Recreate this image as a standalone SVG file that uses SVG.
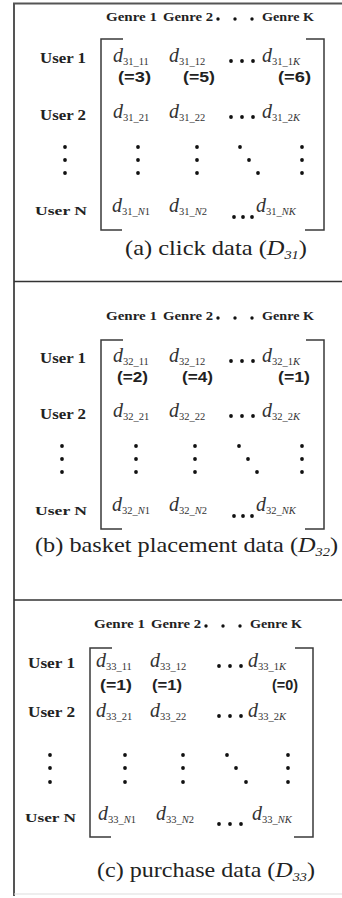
<svg xmlns="http://www.w3.org/2000/svg" width="342" height="898" viewBox="0 0 342 898">
  <style>
    .frame { stroke: #555; stroke-width: 2; fill: none; }
    .divider { stroke: #333; stroke-width: 1.5; fill: none; }
    .bracket { stroke: #3a3a3a; stroke-width: 1.5; fill: none; }
    .hdr { font-family: "Liberation Serif", serif; font-weight: bold; font-size: 13.5px; fill: #222; }
    .user { font-family: "Liberation Serif", serif; font-weight: bold; font-size: 15px; fill: #222; }
    .userN { font-family: "Liberation Serif", serif; font-weight: bold; font-size: 13px; fill: #222; }
    .d { font-family: "Liberation Serif", serif; font-style: italic; font-size: 20px; fill: #333; }
    .sub { font-style: normal; font-size: 10.5px; }
    .it { font-style: italic; }
    .val { font-family: "Liberation Sans", sans-serif; font-weight: bold; font-size: 14px; fill: #222; }
    .cap { font-family: "Liberation Serif", serif; font-size: 22px; fill: #222; }
    .capsub { font-size: 13px; font-style: italic; }
    .dot { fill: #111; }
  </style>
  <defs>
    <circle id="dt" r="1.9" class="dot"/>
    <circle id="hd" r="1.7" class="dot"/>
  </defs>

  <rect width="342" height="898" fill="#fff"/>

  <!-- outer frame and panel dividers -->
  <g id="frame">
    <line class="frame" x1="14" y1="3" x2="14" y2="896"/>
    <line class="frame" x1="13" y1="3.5" x2="342" y2="3.5" stroke-width="1.5"/>
    <line class="divider" x1="14" y1="281.5" x2="342" y2="281.5"/>
    <line class="divider" x1="14" y1="600" x2="342" y2="600"/>
    <line x1="14" y1="894" x2="342" y2="894" stroke="#ddd" stroke-width="1"/>
  </g>

  <!-- panel (a): click data -->
  <g id="panel-a">
    <g id="a-header">
      <text class="hdr" x="106" y="21" textLength="51" lengthAdjust="spacingAndGlyphs">Genre 1</text>
      <text class="hdr" x="163" y="21" textLength="50" lengthAdjust="spacingAndGlyphs">Genre 2</text>
      <use href="#hd" x="218" y="19"/><use href="#hd" x="235" y="19"/><use href="#hd" x="252" y="19"/>
      <text class="hdr" x="262" y="21" textLength="52" lengthAdjust="spacingAndGlyphs">Genre K</text>
    </g>
    <g id="a-users">
      <text class="user" x="40" y="63" textLength="46" lengthAdjust="spacingAndGlyphs">User 1</text>
      <text class="user" x="40" y="120" textLength="46" lengthAdjust="spacingAndGlyphs">User 2</text>
      <use href="#dt" x="65" y="147"/><use href="#dt" x="65" y="160"/><use href="#dt" x="65" y="173"/>
      <text class="userN" x="35" y="215" textLength="52" lengthAdjust="spacingAndGlyphs">User N</text>
    </g>
    <g id="a-matrix">
      <path class="bracket" d="M123,39 H101 V230 H122"/>
      <path class="bracket" d="M306,39 H324 V230 H305"/>
      <text class="d" x="113" y="62">d<tspan class="sub" dy="3">31_11</tspan></text>
      <text class="d" x="169" y="62">d<tspan class="sub" dy="3">31_12</tspan></text>
      <use href="#dt" x="231" y="61"/><use href="#dt" x="242" y="61"/><use href="#dt" x="253" y="61"/>
      <text class="d" x="262" y="62">d<tspan class="sub" dy="3">31_1<tspan class="it">K</tspan></tspan></text>
      <text class="val" x="118" y="82" textLength="33" lengthAdjust="spacingAndGlyphs">(=3)</text>
      <text class="val" x="183" y="82" textLength="32" lengthAdjust="spacingAndGlyphs">(=5)</text>
      <text class="val" x="278" y="82" textLength="33" lengthAdjust="spacingAndGlyphs">(=6)</text>
      <text class="d" x="113" y="118">d<tspan class="sub" dy="3">31_21</tspan></text>
      <text class="d" x="169" y="118">d<tspan class="sub" dy="3">31_22</tspan></text>
      <use href="#dt" x="231" y="117"/><use href="#dt" x="242" y="117"/><use href="#dt" x="253" y="117"/>
      <text class="d" x="262" y="118">d<tspan class="sub" dy="3">31_2<tspan class="it">K</tspan></tspan></text>
      <use href="#dt" x="138" y="147"/><use href="#dt" x="138" y="160"/><use href="#dt" x="138" y="173"/>
      <use href="#dt" x="197" y="147"/><use href="#dt" x="197" y="160"/><use href="#dt" x="197" y="173"/>
      <use href="#dt" x="240" y="147"/><use href="#dt" x="249" y="160"/><use href="#dt" x="258" y="173"/>
      <use href="#dt" x="302" y="147"/><use href="#dt" x="302" y="160"/><use href="#dt" x="302" y="173"/>
      <text class="d" x="112" y="212">d<tspan class="sub" dy="3">31_<tspan class="it">N</tspan>1</tspan></text>
      <text class="d" x="169" y="212">d<tspan class="sub" dy="3">31_<tspan class="it">N</tspan>2</tspan></text>
      <use href="#dt" x="234" y="217"/><use href="#dt" x="243" y="217"/><use href="#dt" x="252" y="217"/>
      <text class="d" x="256" y="212">d<tspan class="sub" dy="3">31_<tspan class="it">NK</tspan></tspan></text>
    </g>
    <text id="a-caption" class="cap" x="125" y="255" textLength="182" lengthAdjust="spacingAndGlyphs">(a) click data (<tspan class="it">D</tspan><tspan class="capsub" dy="4">31</tspan><tspan dy="-4">)</tspan></text>
  </g>

  <!-- panel (b): basket placement data -->
  <g id="panel-b">
    <g id="b-header">
      <text class="hdr" x="106" y="320" textLength="51" lengthAdjust="spacingAndGlyphs">Genre 1</text>
      <text class="hdr" x="163" y="320" textLength="50" lengthAdjust="spacingAndGlyphs">Genre 2</text>
      <use href="#hd" x="218" y="318"/><use href="#hd" x="235" y="318"/><use href="#hd" x="252" y="318"/>
      <text class="hdr" x="262" y="320" textLength="52" lengthAdjust="spacingAndGlyphs">Genre K</text>
    </g>
    <g id="b-users">
      <text class="user" x="40" y="363" textLength="46" lengthAdjust="spacingAndGlyphs">User 1</text>
      <text class="user" x="40" y="419" textLength="46" lengthAdjust="spacingAndGlyphs">User 2</text>
      <use href="#dt" x="62" y="446"/><use href="#dt" x="62" y="459"/><use href="#dt" x="62" y="472"/>
      <text class="userN" x="35" y="515" textLength="52" lengthAdjust="spacingAndGlyphs">User N</text>
    </g>
    <g id="b-matrix">
      <path class="bracket" d="M123,340 H101 V529 H122"/>
      <path class="bracket" d="M306,340 H324 V529 H305"/>
      <text class="d" x="113" y="362">d<tspan class="sub" dy="3">32_11</tspan></text>
      <text class="d" x="169" y="362">d<tspan class="sub" dy="3">32_12</tspan></text>
      <use href="#dt" x="231" y="361"/><use href="#dt" x="242" y="361"/><use href="#dt" x="253" y="361"/>
      <text class="d" x="262" y="362">d<tspan class="sub" dy="3">32_1<tspan class="it">K</tspan></tspan></text>
      <text class="val" x="117" y="382" textLength="31" lengthAdjust="spacingAndGlyphs">(=2)</text>
      <text class="val" x="182" y="382" textLength="31" lengthAdjust="spacingAndGlyphs">(=4)</text>
      <text class="val" x="278" y="382" textLength="32" lengthAdjust="spacingAndGlyphs">(=1)</text>
      <text class="d" x="113" y="417">d<tspan class="sub" dy="3">32_21</tspan></text>
      <text class="d" x="169" y="417">d<tspan class="sub" dy="3">32_22</tspan></text>
      <use href="#dt" x="231" y="416"/><use href="#dt" x="242" y="416"/><use href="#dt" x="253" y="416"/>
      <text class="d" x="262" y="417">d<tspan class="sub" dy="3">32_2<tspan class="it">K</tspan></tspan></text>
      <use href="#dt" x="136" y="446"/><use href="#dt" x="136" y="459"/><use href="#dt" x="136" y="472"/>
      <use href="#dt" x="195" y="446"/><use href="#dt" x="195" y="459"/><use href="#dt" x="195" y="472"/>
      <use href="#dt" x="239" y="446"/><use href="#dt" x="248" y="459"/><use href="#dt" x="257" y="472"/>
      <use href="#dt" x="302" y="446"/><use href="#dt" x="302" y="459"/><use href="#dt" x="302" y="472"/>
      <text class="d" x="112" y="511">d<tspan class="sub" dy="3">32_<tspan class="it">N</tspan>1</tspan></text>
      <text class="d" x="169" y="511">d<tspan class="sub" dy="3">32_<tspan class="it">N</tspan>2</tspan></text>
      <use href="#dt" x="234" y="516"/><use href="#dt" x="243" y="516"/><use href="#dt" x="252" y="516"/>
      <text class="d" x="256" y="511">d<tspan class="sub" dy="3">32_<tspan class="it">NK</tspan></tspan></text>
    </g>
    <text id="b-caption" class="cap" x="35" y="552" textLength="303" lengthAdjust="spacingAndGlyphs">(b) basket placement data (<tspan class="it">D</tspan><tspan class="capsub" dy="4">32</tspan><tspan dy="-4">)</tspan></text>
  </g>

  <!-- panel (c): purchase data -->
  <g id="panel-c">
    <g id="c-header">
      <text class="hdr" x="94" y="628" textLength="51" lengthAdjust="spacingAndGlyphs">Genre 1</text>
      <text class="hdr" x="151" y="628" textLength="50" lengthAdjust="spacingAndGlyphs">Genre 2</text>
      <use href="#hd" x="206" y="626"/><use href="#hd" x="223" y="626"/><use href="#hd" x="240" y="626"/>
      <text class="hdr" x="250" y="628" textLength="52" lengthAdjust="spacingAndGlyphs">Genre K</text>
    </g>
    <g id="c-users">
      <text class="user" x="28" y="668" textLength="47" lengthAdjust="spacingAndGlyphs">User 1</text>
      <text class="user" x="28" y="717" textLength="47" lengthAdjust="spacingAndGlyphs">User 2</text>
      <use href="#dt" x="50" y="755"/><use href="#dt" x="50" y="768"/><use href="#dt" x="50" y="782"/>
      <text class="userN" x="25" y="822" textLength="51" lengthAdjust="spacingAndGlyphs">User N</text>
    </g>
    <g id="c-matrix">
      <path class="bracket" d="M112,648 H90 V837 H111"/>
      <path class="bracket" d="M295,648 H313 V837 H294"/>
      <text class="d" x="96" y="667">d<tspan class="sub" dy="3">33_11</tspan></text>
      <text class="d" x="150" y="667">d<tspan class="sub" dy="3">33_12</tspan></text>
      <use href="#dt" x="219" y="666"/><use href="#dt" x="230" y="666"/><use href="#dt" x="241" y="666"/>
      <text class="d" x="248" y="667">d<tspan class="sub" dy="3">33_1<tspan class="it">K</tspan></tspan></text>
      <text class="val" x="100" y="690" textLength="32" lengthAdjust="spacingAndGlyphs">(=1)</text>
      <text class="val" x="152" y="690" textLength="30" lengthAdjust="spacingAndGlyphs">(=1)</text>
      <text class="val" x="272" y="690" textLength="26" lengthAdjust="spacingAndGlyphs">(=0)</text>
      <text class="d" x="96" y="717">d<tspan class="sub" dy="3">33_21</tspan></text>
      <text class="d" x="150" y="717">d<tspan class="sub" dy="3">33_22</tspan></text>
      <use href="#dt" x="219" y="716"/><use href="#dt" x="230" y="716"/><use href="#dt" x="241" y="716"/>
      <text class="d" x="248" y="717">d<tspan class="sub" dy="3">33_2<tspan class="it">K</tspan></tspan></text>
      <use href="#dt" x="125" y="755"/><use href="#dt" x="125" y="768"/><use href="#dt" x="125" y="782"/>
      <use href="#dt" x="183" y="755"/><use href="#dt" x="183" y="768"/><use href="#dt" x="183" y="782"/>
      <use href="#dt" x="227" y="755"/><use href="#dt" x="236" y="768"/><use href="#dt" x="246" y="782"/>
      <use href="#dt" x="288" y="755"/><use href="#dt" x="288" y="768"/><use href="#dt" x="288" y="782"/>
      <text class="d" x="98" y="820">d<tspan class="sub" dy="3">33_<tspan class="it">N</tspan>1</tspan></text>
      <text class="d" x="156" y="820">d<tspan class="sub" dy="3">33_<tspan class="it">N</tspan>2</tspan></text>
      <use href="#dt" x="219" y="824"/><use href="#dt" x="230" y="824"/><use href="#dt" x="241" y="824"/>
      <text class="d" x="252" y="820">d<tspan class="sub" dy="3">33_<tspan class="it">NK</tspan></tspan></text>
    </g>
    <text id="c-caption" class="cap" x="97" y="877" textLength="218" lengthAdjust="spacingAndGlyphs">(c) purchase data (<tspan class="it">D</tspan><tspan class="capsub" dy="4">33</tspan><tspan dy="-4">)</tspan></text>
  </g>
</svg>
